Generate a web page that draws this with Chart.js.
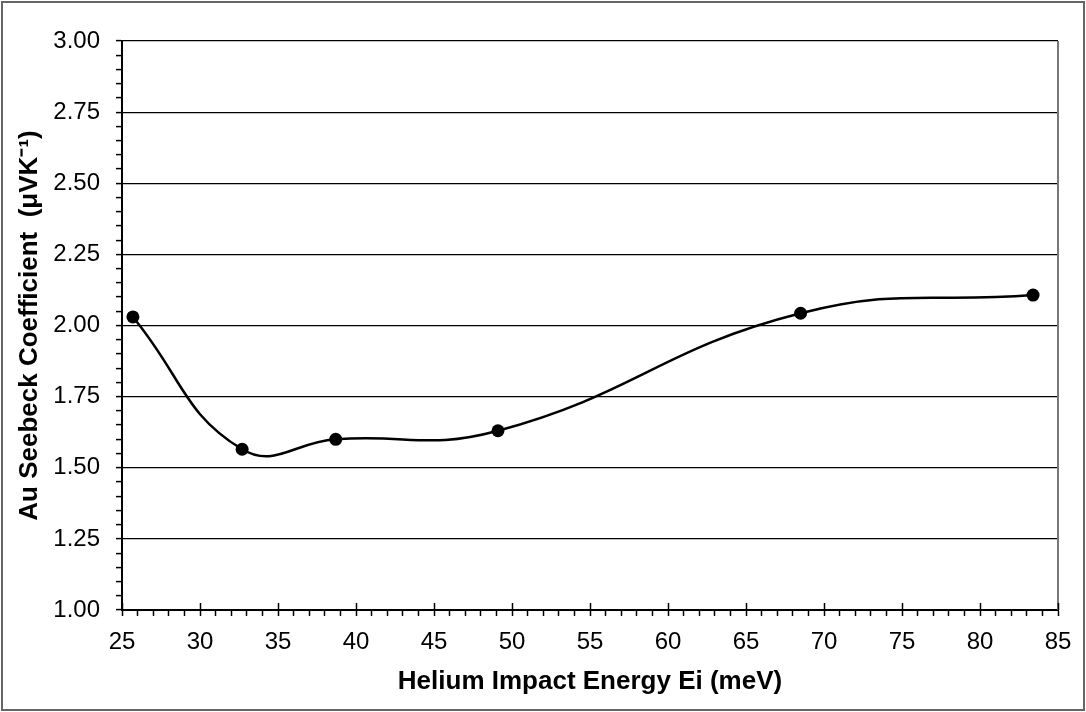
<!DOCTYPE html>
<html>
<head>
<meta charset="utf-8">
<script src="https://cdn.jsdelivr.net/npm/chart.js@4.4.0/dist/chart.umd.min.js"></script>
<style>
  html, body { margin:0; padding:0; background:#fff; }
  canvas { display:block; }
</style>
</head>
<body>
<canvas id="chart" width="1086" height="712"></canvas>
<script>
// values
const energy = [25.7, 32.7, 38.7, 49.1, 68.5, 83.4];   // meV
const seebeck = [2.03, 1.565, 1.60, 1.63, 2.043, 2.107]; // uV/K
const xTitle = 'Helium Impact Energy Ei (meV)';
const yTitle = 'Au Seebeck Coefficient  (\u03BCVK\u207B\u00B9)';

points = []
for (let i=0; i<energy.length; i++){
  points.push({x: energy[i], y: seebeck[i]})
}

function isMajorY(v){ return Math.abs(v*4 - Math.round(v*4)) < 1e-6 }
function isMajorX(v){ return Math.abs(v/5 - Math.round(v/5)) < 1e-6 }

// frame, right border of plot and inward x major ticks
const extras = {
  id: 'extras',
  afterDraw(chart){
    const c = chart.ctx, a = chart.chartArea, xs = chart.scales.x;
    c.save();
    c.strokeStyle = '#666';
    c.lineWidth = 2;
    c.strokeRect(2, 2, 1082, 708);
    c.strokeStyle = '#777';
    c.beginPath();
    c.moveTo(a.right, a.top);
    c.lineTo(a.right, a.bottom);
    c.stroke();
    c.strokeStyle = '#000';
    c.lineWidth = 1.5;
    for (const t of xs.ticks){
      if (!isMajorX(t.value)) continue;
      const px = Math.round(xs.getPixelForValue(t.value)) + 0.5;
      c.beginPath();
      c.moveTo(px, a.bottom);
      c.lineTo(px, a.bottom - 7);
      c.stroke();
    }
    c.restore();
  }
};

const myChart = new Chart(
  document.getElementById('chart'),
  {
    type: 'line',
    data: {
      datasets: [{
        data: points,
        borderColor: '#000',
        borderWidth: 2.5,
        backgroundColor: '#000',
        pointRadius: 6.5,
        pointBackgroundColor: '#000',
        pointBorderWidth: 0,
        tension: 0.45,
        fill: false
      }]
    },
    options: {
      responsive: false,
      animation: false,
      devicePixelRatio: 1,
      layout: { padding: { left: 0, top: 41, right: 28, bottom: 0 } },
      plugins: { legend: { display: false }, tooltip: { enabled: false } },
      scales: {
        x: {
          type: 'linear',
          min: 25, max: 85,
          afterFit: s => { s.height = 102 },
          ticks: {
            stepSize: 1, autoSkip: false, maxRotation: 0,
            color: '#000', padding: 12,
            font: { family: 'Liberation Sans, Arial', size: 24 },
            callback: v => isMajorX(v) ? String(Math.round(v)) : ''
          },
          grid: { drawOnChartArea: false, tickLength: 6, tickColor: '#000', tickWidth: 1.5 },
          border: { color: '#000', width: 2 },
          title: {
            display: true, text: xTitle, color: '#000',
            font: { family: 'Liberation Sans, Arial', size: 26, weight: 'bold' },
            padding: { top: 0, bottom: 15 }
          }
        },
        y: {
          min: 1, max: 3,
          afterFit: s => { s.width = 122 },
          ticks: {
            stepSize: 0.05, autoSkip: false,
            color: '#000', padding: 16,
            font: { family: 'Liberation Sans, Arial', size: 24 },
            callback: v => isMajorY(v) ? v.toFixed(2) : ''
          },
          grid: {
            color: ctx => (ctx.tick && isMajorY(ctx.tick.value)) ? '#000' : 'rgba(0,0,0,0)',
            tickColor: '#000', tickLength: 6, lineWidth: 1.2, tickWidth: 1.5
          },
          border: { color: '#000', width: 2 },
          title: {
            display: true, text: yTitle, color: '#000',
            font: { family: 'Liberation Sans, Arial', size: 26, weight: 'bold' },
            padding: { top: 14, bottom: 0 }
          }
        }
      }
    },
    plugins: [extras]
  }
);
</script>
</body>
</html>
